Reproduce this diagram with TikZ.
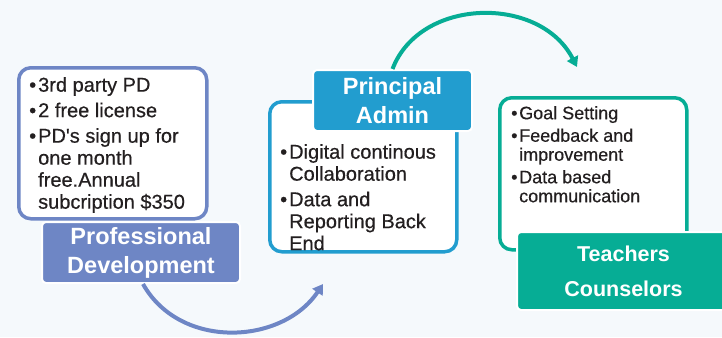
\documentclass[tikz,border=0pt]{standalone}
\usepackage{fontspec}
\setmainfont{Liberation Sans}
\newfontfamily\medfont{Liberation Sans}[FakeBold=0.5]
\usetikzlibrary{arrows.meta}
\definecolor{bgc}{HTML}{F5F9FC}
\definecolor{pdc}{HTML}{6E86C5}
\definecolor{pac}{HTML}{229DCF}
\definecolor{tcc}{HTML}{06AD95}
\definecolor{txc}{HTML}{231F20}
\newcommand\bul[2][9pt]{\hangindent=#1\hangafter=1\noindent\makebox[#1][l]{•}#2\par}
\begin{document}
\begin{tikzpicture}[x=1pt,y=-1pt,
  listbox/.style={draw,line width=3.5pt,fill=white,rounded corners=12pt,anchor=north west,inner sep=0pt},
  titlebox/.style={draw=white,line width=2pt,rounded corners=4pt,text=white,align=center,inner sep=0pt},
  listtext/.style={anchor=north west,inner sep=0pt,text=txc,align=flush left,
    execute at begin node={\hyphenpenalty=10000\exhyphenpenalty=10000\setlength\parskip{3.5pt}}},
  conn/.style={line width=4pt,-{Triangle[length=10pt,width=12pt]}}]
\useasboundingbox[fill=bgc] (0,0) rectangle (722,337);
% boxes
\node[listbox,draw=pdc,minimum width=188pt,minimum height=151pt] (b1) at (17,66) {};
\node[listbox,draw=pac,minimum width=187pt,minimum height=150pt] (b2) at (268,100) {};
\node[listbox,draw=tcc,minimum width=187pt,minimum height=152pt] (b3) at (498,96) {};
% list texts
\node[listtext,text width=172pt,font=\medfont\fontsize{20}{22}\selectfont] (l1) at (29,77) {%
\bul{3rd party PD}\bul{2 free license}\bul{PD{\char"27}s sign up for one month free.Annual subcription \$350}};
\node[listtext,text width=169pt,font=\medfont\fontsize{20}{22}\selectfont] (l2) at (280,144) {%
\bul{Digital continous Collaboration}\bul{Data and Reporting Back End}};
\node[listtext,text width=148pt,font=\medfont\fontsize{18}{19}\selectfont] (l3) at (511,106) {%
\bul[8pt]{Goal Setting}\bul[8pt]{Feedback and improvement}\bul[8pt]{Data based communication}};
% titles
\node[titlebox,fill=pdc,minimum width=198pt,minimum height=61pt,font=\bfseries\fontsize{23.5}{29}\selectfont] (t1) at (141,252.5) {Professional\\Development};
\node[titlebox,fill=pac,minimum width=159pt,minimum height=61pt,font=\bfseries\fontsize{23.5}{29}\selectfont] (t2) at (392.5,100.5) {Principal\\Admin};
\node[titlebox,fill=tcc,minimum width=213pt,minimum height=78pt,font=\bfseries\fontsize{21.5}{35}\selectfont] (t3) at (623.5,271) {Teachers\\Counselors};
% connectors
\coordinate (a1e) at (323,284);
\coordinate (a2e) at (577,67);
\draw[conn,pdc] ([xshift=2pt]t1.south) .. controls (180,350) and (282,345) .. (a1e);
\draw[conn,tcc] (t2.north) .. controls (420,-3) and (540,-5) .. (a2e);
\end{tikzpicture}
\end{document}
